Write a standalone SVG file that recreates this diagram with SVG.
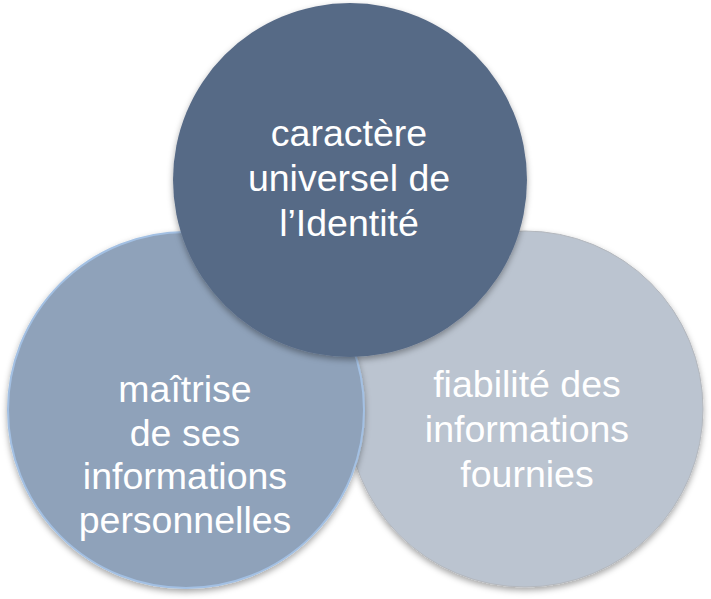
<svg xmlns="http://www.w3.org/2000/svg" width="711" height="599" viewBox="0 0 711 599">
<defs>
<filter id="sh" x="-10%" y="-10%" width="120%" height="125%">
<feDropShadow dx="0" dy="3" stdDeviation="3" flood-color="#000" flood-opacity="0.35"/>
</filter>
</defs>
<style>
.t{font-family:"Liberation Sans",Arial,sans-serif;font-size:37.5px;fill:#ffffff;text-anchor:middle}
</style>
<rect width="711" height="599" fill="#ffffff"/>
<g id="node-fiabilite">
<circle cx="525" cy="409" r="178" fill="#bbc4d0" stroke="#b3b7bd" stroke-width="1" filter="url(#sh)"/>
<text class="t" x="527" y="397">fiabilité des</text>
<text class="t" x="527" y="442">informations</text>
<text class="t" x="527" y="487">fournies</text>
</g>
<g id="node-maitrise">
<circle cx="186" cy="410" r="178" fill="#8fa2ba" stroke="#a3c0e3" stroke-width="2" filter="url(#sh)"/>
<text class="t" x="185" y="402">maîtrise</text>
<text class="t" x="185" y="446">de ses</text>
<text class="t" x="185" y="489">informations</text>
<text class="t" x="185" y="533">personnelles</text>
</g>
<g id="node-caractere">
<circle cx="350" cy="180" r="177" fill="#576a86" filter="url(#sh)"/>
<text class="t" x="349" y="146">caractère</text>
<text class="t" x="349" y="191">universel de</text>
<text class="t" x="349" y="236">l’Identité</text>
</g>
<g id="connectors"/>
</svg>
